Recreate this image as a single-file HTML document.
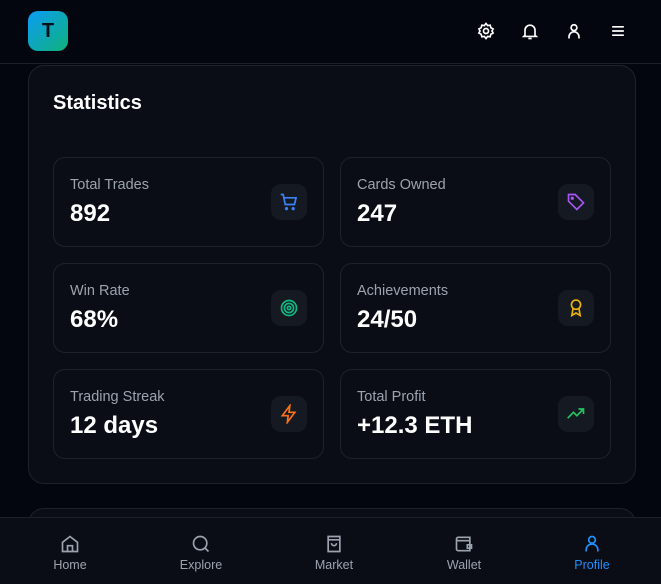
<!DOCTYPE html>
<html style="overflow:hidden;width:661px;height:584px"><head><meta charset="utf-8"><style>
*{box-sizing:border-box;margin:0;padding:0}
body{width:661px;height:584px;overflow:hidden;background:#03060f;font-family:"Liberation Sans",sans-serif;position:relative;color:#fff}
.abs{position:absolute}
.header{left:0;top:0;width:661px;height:64px;border-bottom:1px solid #1c2029;background:#03060f}
.logo{left:28px;top:11px;width:40px;height:40px;border-radius:10px;background:linear-gradient(135deg,#0a9cf5,#10b27a);color:#031018;font-weight:bold;font-size:20px;display:flex;align-items:center;justify-content:center}
.hicon{top:21px;width:20px;height:20px}
.panel{left:28px;top:65px;width:608px;height:419px;border:1px solid #1e222c;border-radius:16px;background:#0a0d16}
.panel2{left:28px;top:508px;width:608px;height:40px;border:1px solid #1e222c;border-radius:16px;background:#0a0d16}
.title{left:53px;top:92px;font-size:20px;font-weight:bold}
.card{width:271px;height:90px;border:1px solid #1e222c;border-radius:12px;background:#0a0d16}
.card .lbl{position:absolute;left:16px;top:19px;font-size:14.5px;color:#9ca3af}
.card .val{position:absolute;left:16px;top:42px;font-size:24px;font-weight:bold}
.card .ib{position:absolute;left:217px;top:26px;width:36px;height:36px;border-radius:10px;background:#151922;display:flex;align-items:center;justify-content:center}
.nav{left:0;top:517px;width:661px;height:67px;background:#0a0d16;border-top:1px solid #1c2029}
.ni{top:0;width:90px;height:67px;text-align:center;color:#9ca3af;font-size:12.5px}
.ni svg{display:block;margin:16px auto 4px}
</style></head><body>
<div class="abs header"></div>
<div class="abs logo">T</div>
<svg class="abs hicon" style="left:476px" viewBox="0 0 24 24" fill="none" stroke="#fff" stroke-width="2"><circle cx="12" cy="12" r="3"/><path d="M12 3l2 2.5 3-.5.8 3 2.7 1.5-1.3 2.5 1.3 2.5-2.7 1.5-.8 3-3-.5L12 21l-2-2.5-3 .5-.8-3L3.5 14.5 4.8 12 3.5 9.5 6.2 8 7 5l3 .5z"/></svg>
<svg class="abs hicon" style="left:520px" viewBox="0 0 24 24" fill="none" stroke="#fff" stroke-width="2"><path d="M6 17V11a6 6 0 0112 0v6l1.5 1.5h-15z"/><path d="M10 21h4"/></svg>
<svg class="abs hicon" style="left:564px" viewBox="0 0 24 24" fill="none" stroke="#fff" stroke-width="2"><circle cx="12" cy="8" r="3.5"/><path d="M6 21v-2a5 5 0 0112 0v2"/></svg>
<svg class="abs hicon" style="left:608px" viewBox="0 0 24 24" fill="none" stroke="#fff" stroke-width="2"><path d="M5 7h14M5 12h14M5 17h14"/></svg>

<div class="abs panel"></div>
<div class="abs title">Statistics</div>

<div class="abs card" style="left:53px;top:157px"><div class="lbl">Total Trades</div><div class="val">892</div><div class="ib"><svg width="20" height="20" viewBox="0 0 24 24" fill="none" stroke="#3b82f6" stroke-width="2"><path d="M2 3h3l2.5 12h11l2-8H6"/><circle cx="9" cy="20" r="1"/><circle cx="17" cy="20" r="1"/></svg></div></div>
<div class="abs card" style="left:340px;top:157px"><div class="lbl">Cards Owned</div><div class="val">247</div><div class="ib"><svg width="20" height="20" viewBox="0 0 24 24" fill="none" stroke="#a855f7" stroke-width="2"><path d="M3 3h8l10 10-8 8L3 11z"/><circle cx="7.5" cy="7.5" r="1"/></svg></div></div>
<div class="abs card" style="left:53px;top:263px"><div class="lbl">Win Rate</div><div class="val">68%</div><div class="ib"><svg width="20" height="20" viewBox="0 0 24 24" fill="none" stroke="#10b981" stroke-width="2"><circle cx="12" cy="12" r="9"/><circle cx="12" cy="12" r="5.5"/><circle cx="12" cy="12" r="2"/></svg></div></div>
<div class="abs card" style="left:340px;top:263px"><div class="lbl">Achievements</div><div class="val">24/50</div><div class="ib"><svg width="20" height="20" viewBox="0 0 24 24" fill="none" stroke="#eab308" stroke-width="2"><circle cx="12" cy="8" r="5.5"/><path d="M8.5 12.5L7 21l5-3 5 3-1.5-8.5"/></svg></div></div>
<div class="abs card" style="left:53px;top:369px"><div class="lbl">Trading Streak</div><div class="val">12 days</div><div class="ib"><svg width="20" height="20" viewBox="0 0 24 24" fill="none" stroke="#f97316" stroke-width="2"><path d="M13 2L4 14h7l-1 8 9-12h-7z"/></svg></div></div>
<div class="abs card" style="left:340px;top:369px"><div class="lbl">Total Profit</div><div class="val">+12.3 ETH</div><div class="ib"><svg width="20" height="20" viewBox="0 0 24 24" fill="none" stroke="#22c55e" stroke-width="2"><path d="M2 17l7-7 4 4 8-8M15 6h6v6"/></svg></div></div>

<div class="abs panel2"></div>

<div class="abs nav">
<div class="abs ni" style="left:25px"><svg width="20" height="20" viewBox="0 0 24 24" fill="none" stroke="#9ca3af" stroke-width="2"><path d="M3 10l9-7 9 7v11H3z"/><path d="M9 21v-7h6v7"/></svg>Home</div>
<div class="abs ni" style="left:156px"><svg width="20" height="20" viewBox="0 0 24 24" fill="none" stroke="#9ca3af" stroke-width="2"><circle cx="11" cy="11" r="8"/><path d="M21 21l-4.3-4.3"/></svg>Explore</div>
<div class="abs ni" style="left:289px"><svg width="20" height="20" viewBox="0 0 24 24" fill="none" stroke="#9ca3af" stroke-width="2"><path d="M5 3h14v18H5zM5 7h14"/><path d="M9 11a3 3 0 006 0"/></svg>Market</div>
<div class="abs ni" style="left:419px"><svg width="20" height="20" viewBox="0 0 24 24" fill="none" stroke="#9ca3af" stroke-width="2"><path d="M19 7V4H5a2 2 0 000 4h14v12H5a2 2 0 01-2-2V6"/><path d="M16 13h5v4h-5z"/></svg>Wallet</div>
<div class="abs ni" style="left:547px;color:#1e90ff"><svg width="20" height="20" viewBox="0 0 24 24" fill="none" stroke="#1e90ff" stroke-width="2"><circle cx="12" cy="7" r="4"/><path d="M5 21v-2a7 7 0 0114 0v2"/></svg>Profile</div>
</div>
</body></html>
